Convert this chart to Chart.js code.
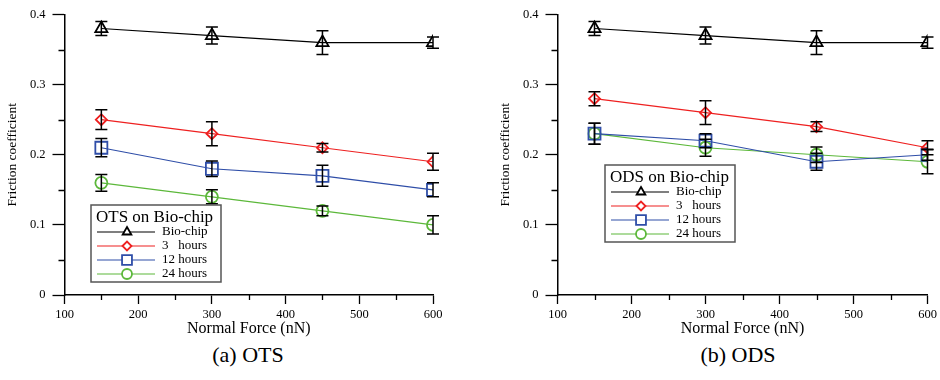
<!DOCTYPE html>
<html>
<head>
<meta charset="utf-8">
<script src="https://cdn.jsdelivr.net/npm/chart.js@4/dist/chart.umd.min.js"></script>
<style>
  body { margin: 0; background: #fff; width: 940px; height: 380px; position: relative; overflow: hidden; }
  canvas { position: absolute; top: 0; }
  .caption { position: absolute; top: 342px; width: 200px; text-align: center;
    font-family: "Liberation Serif", "Times New Roman", serif; font-size: 22px; color: #000; }
</style>
</head>
<body>
<canvas id="otsChart" width="470" height="342" style="left:0px"></canvas>
<canvas id="odsChart" width="447" height="342" style="left:493px"></canvas>
<div class="caption" style="left:148px">(a) OTS</div>
<div class="caption" style="left:638px">(b) ODS</div>

<script>
// ===== Data =====
const forces = [150, 300, 450, 600];
const xTicks = [100, 200, 300, 400, 500, 600];
const yTicks = [0, 0.1, 0.2, 0.3, 0.4];
const seriesNames = ["Bio-chip", "3   hours", "12 hours", "24 hours"];

const otsBio = [0.38, 0.37, 0.36, 0.36];
const otsBioErr = [0.01, 0.012, 0.017, 0.008];
const ots3h = [0.25, 0.23, 0.21, 0.19];
const ots3hErr = [0.014, 0.017, 0.006, 0.012];
const ots12h = [0.21, 0.18, 0.17, 0.15];
const ots12hErr = [0.013, 0.011, 0.015, 0.01];
const ots24h = [0.16, 0.14, 0.12, 0.10];
const ots24hErr = [0.012, 0.01, 0.007, 0.013];

const odsBio = [0.38, 0.37, 0.36, 0.36];
const odsBioErr = [0.01, 0.012, 0.017, 0.008];
const ods3h = [0.28, 0.26, 0.24, 0.21];
const ods3hErr = [0.01, 0.017, 0.007, 0.01];
const ods12h = [0.23, 0.22, 0.19, 0.20];
const ods12hErr = [0.015, 0.01, 0.012, 0.008];
const ods24h = [0.23, 0.21, 0.20, 0.19];
const ods24hErr = [0.015, 0.012, 0.011, 0.017];

const SERIF = '"Liberation Serif", "Times New Roman", serif';
const styles = [
  { color: "#000000", point: "triangle", radius: 7, legendRadius: 5 },
  { color: "#ee2020", point: "rectRot", radius: 5.5, legendRadius: 4.5 },
  { color: "#2f4ea8", point: "rect", radius: 8.5, legendRadius: 7 },
  { color: "#5cb83a", point: "circle", radius: 6, legendRadius: 5 }
];

function makeDatasets(values, errors) {
  return values.map((vals, i) => ({
    label: seriesNames[i],
    data: forces.map((f, j) => ({ x: f, y: vals[j] })),
    errors: errors[i],
    borderColor: styles[i].color,
    backgroundColor: "transparent",
    borderWidth: 1.2,
    pointStyle: styles[i].point,
    pointRadius: styles[i].radius,
    pointBorderWidth: 1.8,
    pointBorderColor: styles[i].color,
    pointBackgroundColor: "transparent",
    tension: 0
  }));
}

// ===== Error bars + minor ticks =====
const extrasPlugin = {
  id: "extras",
  afterDatasetsDraw(chart) {
    const { ctx, scales: { x, y } } = chart;
    ctx.save();
    ctx.strokeStyle = "#000";
    ctx.lineWidth = 1.5;
    chart.data.datasets.forEach(ds => {
      ds.data.forEach((p, j) => {
        const px = x.getPixelForValue(p.x);
        const top = y.getPixelForValue(p.y + ds.errors[j]);
        const bot = y.getPixelForValue(p.y - ds.errors[j]);
        ctx.beginPath();
        ctx.moveTo(px, top); ctx.lineTo(px, bot);
        ctx.moveTo(px - 6, top); ctx.lineTo(px + 6, top);
        ctx.moveTo(px - 6, bot); ctx.lineTo(px + 6, bot);
        ctx.stroke();
      });
    });
    // minor ticks
    ctx.lineWidth = 1.3;
    ctx.beginPath();
    for (let v = 0.05; v < 0.4; v += 0.1) {
      const py = Math.round(y.getPixelForValue(v)) + 0.5;
      ctx.moveTo(x.left - 6, py); ctx.lineTo(x.left, py);
    }
    for (let v = 150; v < 600; v += 100) {
      const px = Math.round(x.getPixelForValue(v)) + 0.5;
      ctx.moveTo(px, y.bottom); ctx.lineTo(px, y.bottom + 5);
    }
    ctx.stroke();
    ctx.restore();
  }
};

// ===== Legend box inside plot =====
const boxLegendPlugin = {
  id: "boxLegend",
  afterDraw(chart, args, opts) {
    const { ctx, chartArea } = chart;
    const bx = chartArea.left + opts.dx, by = chartArea.top + opts.dy;
    const bw = 130, bh = 77;
    ctx.save();
    ctx.fillStyle = "#fff";
    ctx.fillRect(bx, by, bw, bh);
    ctx.strokeStyle = "#555";
    ctx.lineWidth = 1.5;
    ctx.strokeRect(bx, by, bw, bh);
    ctx.fillStyle = "#000";
    ctx.textBaseline = "middle";
    ctx.font = "17px " + SERIF;
    ctx.fillText(opts.title, bx + 5, by + 13);
    ctx.font = "13px " + SERIF;
    seriesNames.forEach((name, i) => {
      const ry = by + 27 + i * 14;
      ctx.strokeStyle = styles[i].color;
      ctx.lineWidth = 1.2;
      ctx.beginPath();
      ctx.moveTo(bx + 6, ry); ctx.lineTo(bx + 64, ry);
      ctx.stroke();
      ctx.lineWidth = 1.8;
      ctx.fillStyle = "#fff";
      Chart.helpers.drawPoint(ctx, { pointStyle: styles[i].point, radius: styles[i].legendRadius, rotation: 0, borderWidth: 1.8 }, bx + 36, ry);
      ctx.fillStyle = "#000";
      ctx.fillText(name, bx + 71, ry);
    });
    ctx.restore();
  }
};

function makeChart(id, datasets, legendTitle, dx, dy, padRight) {
  return new Chart(document.getElementById(id), {
    type: "line",
    data: { datasets },
    plugins: [extrasPlugin, boxLegendPlugin],
    options: {
      responsive: false,
      animation: false,
      devicePixelRatio: 1,
      layout: { padding: { top: 13, right: padRight, left: 0, bottom: 0 } },
      plugins: {
        legend: { display: false },
        tooltip: { enabled: false },
        boxLegend: { title: legendTitle, dx, dy }
      },
      scales: {
        x: {
          type: "linear",
          min: xTicks[0], max: xTicks[xTicks.length - 1],
          afterBuildTicks: s => { s.ticks = xTicks.map(v => ({ value: v })); },
          afterFit: s => { s.height = 47; },
          grid: { drawOnChartArea: false, tickLength: 9, tickWidth: 1.3, tickColor: "#000" },
          border: { color: "#000", width: 1.5 },
          ticks: { color: "#000", padding: 3, font: { family: SERIF, size: 12.5 } },
          title: { display: true, text: "Normal Force (nN)", color: "#000", font: { family: SERIF, size: 16 }, padding: { top: 0, bottom: 4 } }
        },
        y: {
          min: 0, max: 0.4,
          afterBuildTicks: s => { s.ticks = yTicks.map(v => ({ value: v })); },
          afterFit: s => { s.width = 64.5; },
          grid: { drawOnChartArea: false, tickLength: 12, tickWidth: 1.3, tickColor: "#000" },
          border: { color: "#000", width: 1.5 },
          ticks: { color: "#000", padding: 7, font: { family: SERIF, size: 12.5 },
            callback: v => v === 0 ? "0" : v.toFixed(1) },
          title: { display: true, text: "Friction coefficient", color: "#000", font: { family: SERIF, size: 13.5 }, padding: { top: 4, bottom: 0 } }
        }
      }
    }
  });
}

makeChart("otsChart",
  makeDatasets([otsBio, ots3h, ots12h, ots24h], [otsBioErr, ots3hErr, ots12hErr, ots24hErr]),
  "OTS on Bio-chip", 26.5, 190.5, 37);
makeChart("odsChart",
  makeDatasets([odsBio, ods3h, ods12h, ods24h], [odsBioErr, ods3hErr, ods12hErr, ods24hErr]),
  "ODS on Bio-chip", 47.5, 150.5, 12.5);
</script>
</body>
</html>
